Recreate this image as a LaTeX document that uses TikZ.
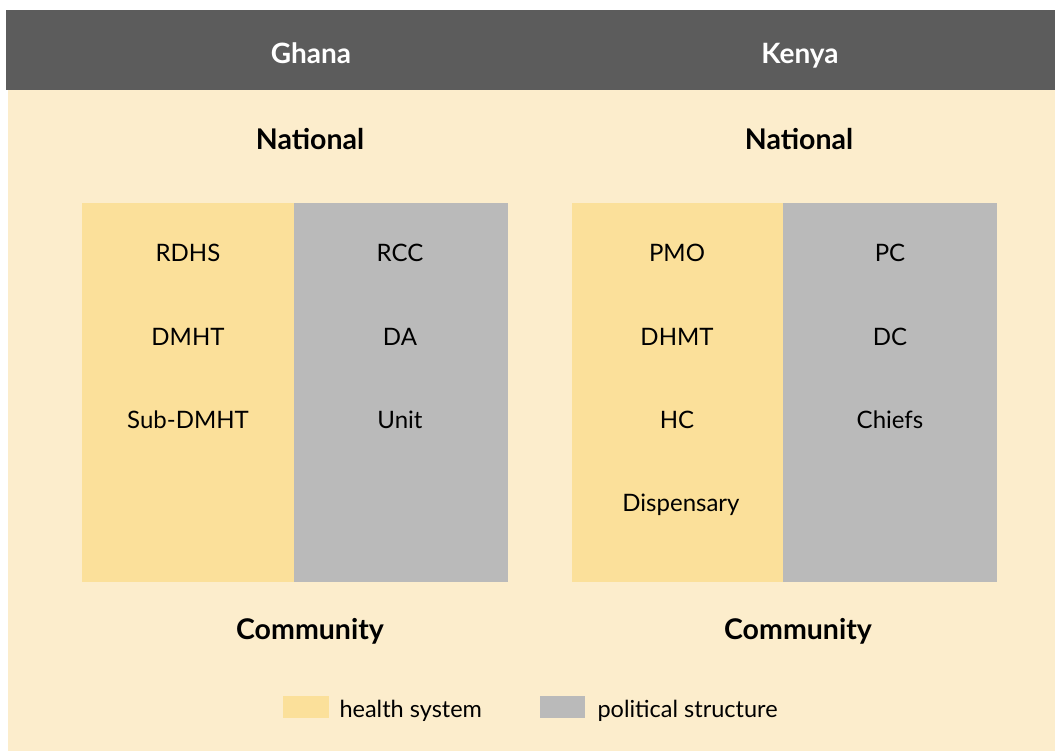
\documentclass[tikz,border=0pt]{standalone}
\usepackage{fontspec}
\setmainfont{Lato}
\definecolor{headgray}{HTML}{5C5C5C}
\definecolor{cream}{HTML}{FCEDCC}
\definecolor{healthcol}{HTML}{FBE09A}
\definecolor{politcol}{HTML}{BABABA}
\begin{document}
\begin{tikzpicture}[x=1pt,y=-1pt]
          % Define styles
          \tikzstyle{head} = [anchor=base, text=white, font=\fontsize{28}{32}\selectfont\bfseries]
          \tikzstyle{level} = [anchor=base, font=\fontsize{28.5}{32}\selectfont\bfseries]
          \tikzstyle{item} = [anchor=base, font=\fontsize{24}{28}\selectfont]
          \tikzstyle{legend} = [anchor=base west, font=\fontsize{23.5}{28}\selectfont]

          \useasboundingbox (0,0) rectangle (1055,751);

          % Background and header bar
          \fill[cream] (8,90) rectangle (1055,751);
          \fill[headgray] (6,10) rectangle (1055,90);
          \node[head] (ghana) at (311,64) {Ghana};
          \node[head] (kenya) at (800,64) {Kenya};

          % National / Community
          \node[level] (natG) at (310,150) {National};
          \node[level] (natK) at (799,150) {National};
          \node[level] (comG) at (310,639) {Community};
          \node[level] (comK) at (798,639) {Community};

          % Ghana columns
          \fill[healthcol] (82,203) rectangle (294,582);
          \fill[politcol]  (294,203) rectangle (508,582);
          \node[item] (rdhs) at (188,262) {RDHS};
          \node[item] (dmht) at (188,345) {DMHT};
          \node[item] (subdmht) at (188,428) {Sub-DMHT};
          \node[item] (rcc) at (400,262) {RCC};
          \node[item] (da) at (400,345) {DA};
          \node[item] (unit) at (400,428) {Unit};

          % Kenya columns
          \fill[healthcol] (572,203) rectangle (783,582);
          \fill[politcol]  (783,203) rectangle (997,582);
          \node[item] (pmo) at (677,262) {PMO};
          \node[item] (dhmt) at (677,345) {DHMT};
          \node[item] (hc) at (677,428) {HC};
          \node[item] (disp) at (681,511) {Dispensary};
          \node[item] (pc) at (890,262) {PC};
          \node[item] (dc) at (890,345) {DC};
          \node[item] (chiefs) at (890,428) {Chiefs};

          % Legend
          \fill[healthcol] (283,696) rectangle (329,718);
          \node[legend] (leghealth) at (336,717) {health system};
          \fill[politcol] (540,696) rectangle (585,718);
          \node[legend] (legpolit) at (594,717) {political structure};

     \end{tikzpicture}
\end{document}
